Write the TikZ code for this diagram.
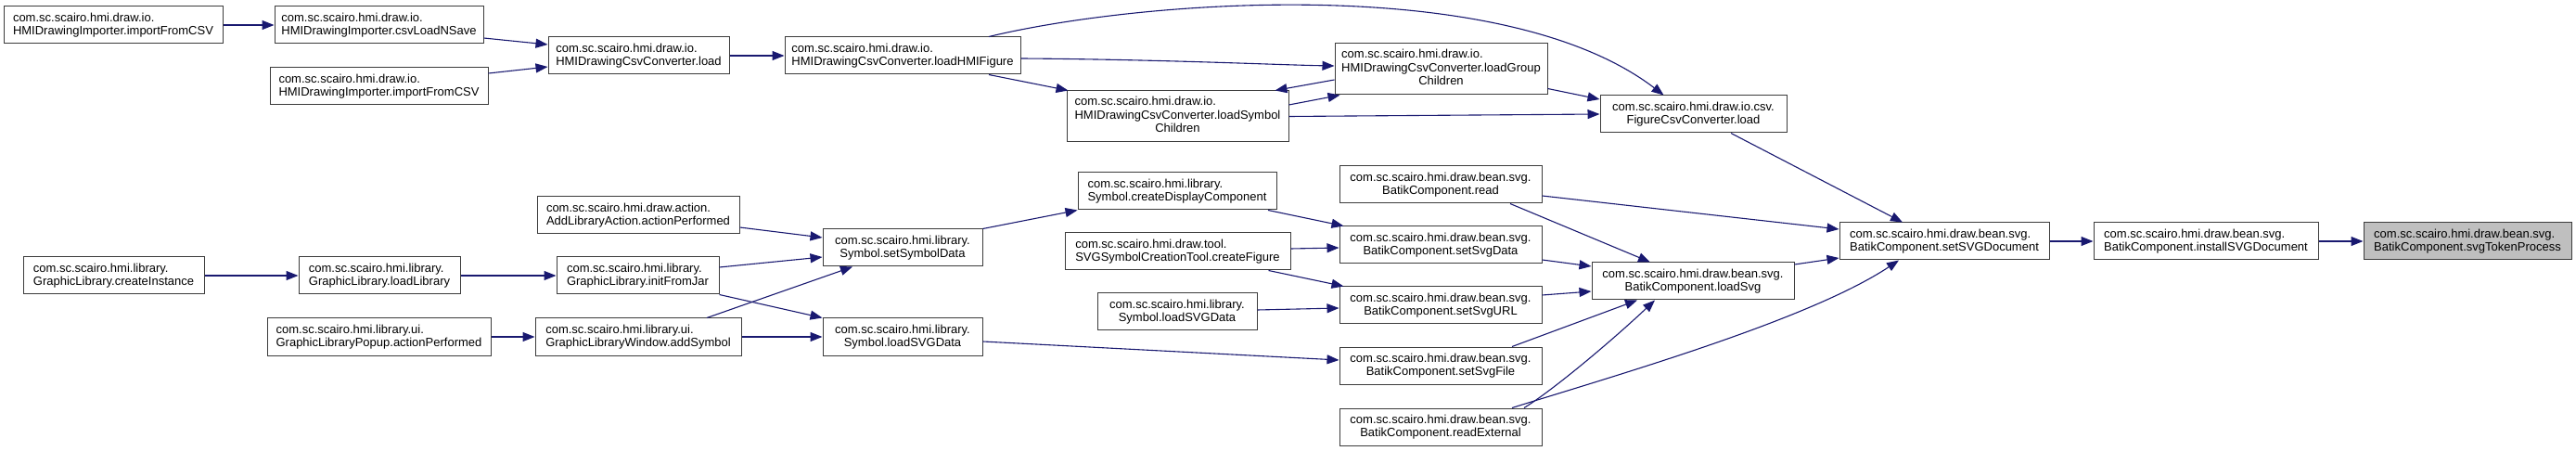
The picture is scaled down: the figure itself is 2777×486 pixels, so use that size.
\documentclass[tikz,border=0pt]{standalone}
\usepackage{fontspec}
\setmainfont{Liberation Sans}
\usetikzlibrary{arrows.meta,calc}
\definecolor{edgeblue}{RGB}{25,25,112}
\definecolor{nodegray}{RGB}{191,191,191}
\definecolor{boxline}{RGB}{60,60,60}
\begin{document}
\begin{tikzpicture}[x=1pt,y=-1pt,
  nb/.style={draw=boxline, fill=white, line width=1pt, inner sep=0pt, minimum height=40pt, font=\fontsize{13}{14.5}\selectfont},
  lft/.style={nb, align=left},
  ctr/.style={nb, align=center},
  e/.style={draw=edgeblue, line width=1.1pt, -{Triangle[length=13pt,width=10pt]}},
]
\useasboundingbox (0,0) rectangle (2777,486);

% column 1
\node[lft, minimum width=236] (imp1) at (122,27) {com.sc.scairo.hmi.draw.io.\\HMIDrawingImporter.importFromCSV};
\node[lft, minimum width=195] (createInstance) at (122.5,297) {com.sc.scairo.hmi.library.\\GraphicLibrary.createInstance};
% column 2
\node[lft, minimum width=225] (csvLoadNSave) at (408.5,27) {com.sc.scairo.hmi.draw.io.\\HMIDrawingImporter.csvLoadNSave};
\node[lft, minimum width=235] (imp2) at (408.5,93) {com.sc.scairo.hmi.draw.io.\\HMIDrawingImporter.importFromCSV};
\node[lft, minimum width=174] (loadLibrary) at (409,297) {com.sc.scairo.hmi.library.\\GraphicLibrary.loadLibrary};
\node[lft, minimum width=241] (Popup) at (408.5,363) {com.sc.scairo.hmi.library.ui.\\GraphicLibraryPopup.actionPerformed};
% column 3
\node[lft, minimum width=195] (load) at (688.5,60) {com.sc.scairo.hmi.draw.io.\\HMIDrawingCsvConverter.load};
\node[lft, minimum width=218] (AddLibraryAction) at (688,232) {com.sc.scairo.hmi.draw.action.\\AddLibraryAction.actionPerformed};
\node[lft, minimum width=175] (initFromJar) at (687.5,297) {com.sc.scairo.hmi.library.\\GraphicLibrary.initFromJar};
\node[lft, minimum width=222] (addSymbol) at (688,363) {com.sc.scairo.hmi.library.ui.\\GraphicLibraryWindow.addSymbol};
% column 4
\node[lft, minimum width=254] (loadHMIFigure) at (973,60) {com.sc.scairo.hmi.draw.io.\\HMIDrawingCsvConverter.loadHMIFigure};
\node[ctr, minimum width=172] (setSymbolData) at (973,267) {com.sc.scairo.hmi.library.\\Symbol.setSymbolData};
\node[ctr, minimum width=172] (loadSVGData1) at (973,363) {com.sc.scairo.hmi.library.\\Symbol.loadSVGData};
% column 5
\node[nb, minimum width=239, minimum height=55] (loadSymbolChildren) at (1269.5,125.5) {\begin{tabular}{@{}l@{}}com.sc.scairo.hmi.draw.io.\\HMIDrawingCsvConverter.loadSymbol\\\multicolumn{1}{@{}c@{}}{Children}\end{tabular}};
\node[lft, minimum width=214] (createDisplayComponent) at (1269,206) {com.sc.scairo.hmi.library.\\Symbol.createDisplayComponent};
\node[lft, minimum width=243] (createFigure) at (1269.5,271) {com.sc.scairo.hmi.draw.tool.\\SVGSymbolCreationTool.createFigure};
\node[ctr, minimum width=172] (loadSVGData2) at (1269,336) {com.sc.scairo.hmi.library.\\Symbol.loadSVGData};
% column 6
\node[nb, minimum width=229, minimum height=55] (loadGroupChildren) at (1553.5,74.5) {\begin{tabular}{@{}l@{}}com.sc.scairo.hmi.draw.io.\\HMIDrawingCsvConverter.loadGroup\\\multicolumn{1}{@{}c@{}}{Children}\end{tabular}};
\node[ctr, minimum width=218] (read) at (1553,199) {com.sc.scairo.hmi.draw.bean.svg.\\BatikComponent.read};
\node[ctr, minimum width=218] (setSvgData) at (1553,264) {com.sc.scairo.hmi.draw.bean.svg.\\BatikComponent.setSvgData};
\node[ctr, minimum width=218] (setSvgURL) at (1553,329) {com.sc.scairo.hmi.draw.bean.svg.\\BatikComponent.setSvgURL};
\node[ctr, minimum width=218] (setSvgFile) at (1553,394) {com.sc.scairo.hmi.draw.bean.svg.\\BatikComponent.setSvgFile};
\node[ctr, minimum width=218] (readExternal) at (1553,460) {com.sc.scairo.hmi.draw.bean.svg.\\BatikComponent.readExternal};
% column 7
\node[ctr, minimum width=201] (FigureCsvConverter) at (1825.5,123) {com.sc.scairo.hmi.draw.io.csv.\\FigureCsvConverter.load};
\node[ctr, minimum width=218] (loadSvg) at (1825,303) {com.sc.scairo.hmi.draw.bean.svg.\\BatikComponent.loadSvg};
% columns 8-10
\node[lft, minimum width=226] (setSVGDocument) at (2096,260) {com.sc.scairo.hmi.draw.bean.svg.\\BatikComponent.setSVGDocument};
\node[lft, minimum width=242] (installSVGDocument) at (2378,260) {com.sc.scairo.hmi.draw.bean.svg.\\BatikComponent.installSVGDocument};
\node[lft, minimum width=224, fill=nodegray] (svgTokenProcess) at (2660,260) {com.sc.scairo.hmi.draw.bean.svg.\\BatikComponent.svgTokenProcess};

% edges
\draw[e] (imp1) -- (csvLoadNSave);
\draw[e] ($(csvLoadNSave.east)+(0,14)$) -- ($(load.west)+(0,-12)$);
\draw[e] ($(imp2.east)+(0,-14)$) -- ($(load.west)+(0,12)$);
\draw[e] (load) -- (loadHMIFigure);
\draw[e] ($(loadHMIFigure.south)+(93,0)$) -- ($(loadSymbolChildren.north west)+(2,0)$);
\draw[e] ($(loadHMIFigure.east)+(0,3)$) .. controls (1250,64) and (1380,70) .. ($(loadGroupChildren.west)+(0,-3.5)$);
\draw[e] ($(loadHMIFigure.north)+(93,0)$) .. controls (1230,0) and (1620,-30) .. ($(FigureCsvConverter.north)+(-32,0)$);
\draw[e] ($(loadGroupChildren.west)+(0,11.5)$) -- ($(loadSymbolChildren.north east)+(-15,0)$);
\draw[e] ($(loadSymbolChildren.east)+(0,-12.5)$) -- ($(loadGroupChildren.south west)+(6,0)$);
\draw[e] (loadSymbolChildren.east) -- (FigureCsvConverter.west);
\draw[e] ($(loadGroupChildren.east)+(0,21)$) -- ($(FigureCsvConverter.west)+(0,-16)$);
\draw[e] ($(FigureCsvConverter.south)+(40.5,0)$) -- ($(setSVGDocument.north)+(-45,0)$);
\draw[e] ($(read.east)+(0,12)$) -- ($(setSVGDocument.west)+(0,-13)$);
\draw[e] ($(read.south)+(75,0)$) -- ($(loadSvg.north)+(-46,0)$);
\draw[e] ($(createDisplayComponent.south)+(98,0)$) -- ($(setSvgData.north west)+(5,0)$);
\draw[e] ($(createFigure.east)+(0,-3)$) -- ($(setSvgData.west)+(0,3)$);
\draw[e] ($(createFigure.south)+(98,0)$) -- ($(setSvgURL.north west)+(5,0)$);
\draw[e] ($(loadSVGData2.east)+(0,-2)$) -- ($(setSvgURL.west)+(0,3)$);
\draw[e] ($(loadSVGData1.east)+(0,5)$) -- ($(setSvgFile.west)+(0,-6)$);
\draw[e] ($(setSvgData.east)+(0,16)$) -- ($(loadSvg.west)+(0,-16)$);
\draw[e] ($(setSvgURL.east)+(0,-11)$) -- ($(loadSvg.west)+(0,11)$);
\draw[e] ($(setSvgFile.north)+(77,0)$) -- ($(loadSvg.south)+(-60,0)$);
\draw[e] ($(readExternal.north)+(90,0)$) .. controls (1675,420) and (1740,365) .. ($(loadSvg.south)+(-41,0)$);
\draw[e] ($(readExternal.north)+(77,0)$) .. controls (1740,405) and (1950,345) .. ($(setSVGDocument.south)+(-49,0)$);
\draw[e] ($(loadSvg.east)+(0,-18)$) -- ($(setSVGDocument.west)+(0,18)$);
\draw[e] (setSVGDocument) -- (installSVGDocument);
\draw[e] (installSVGDocument) -- (svgTokenProcess);
\draw[e] ($(AddLibraryAction.east)+(0,13)$) -- ($(setSymbolData.west)+(0,-11)$);
\draw[e] ($(initFromJar.east)+(0,-9)$) -- ($(setSymbolData.west)+(0,10)$);
\draw[e] (initFromJar.south east) -- (loadSVGData1.north west);
\draw[e] ($(addSymbol.north)+(74,0)$) -- ($(setSymbolData.south)+(-54,0)$);
\draw[e] (addSymbol) -- (loadSVGData1);
\draw[e] (setSymbolData.north east) -- (createDisplayComponent.south west);
\draw[e] (createInstance) -- (loadLibrary);
\draw[e] (loadLibrary) -- (initFromJar);
\draw[e] (Popup) -- (addSymbol);
\end{tikzpicture}
\end{document}
